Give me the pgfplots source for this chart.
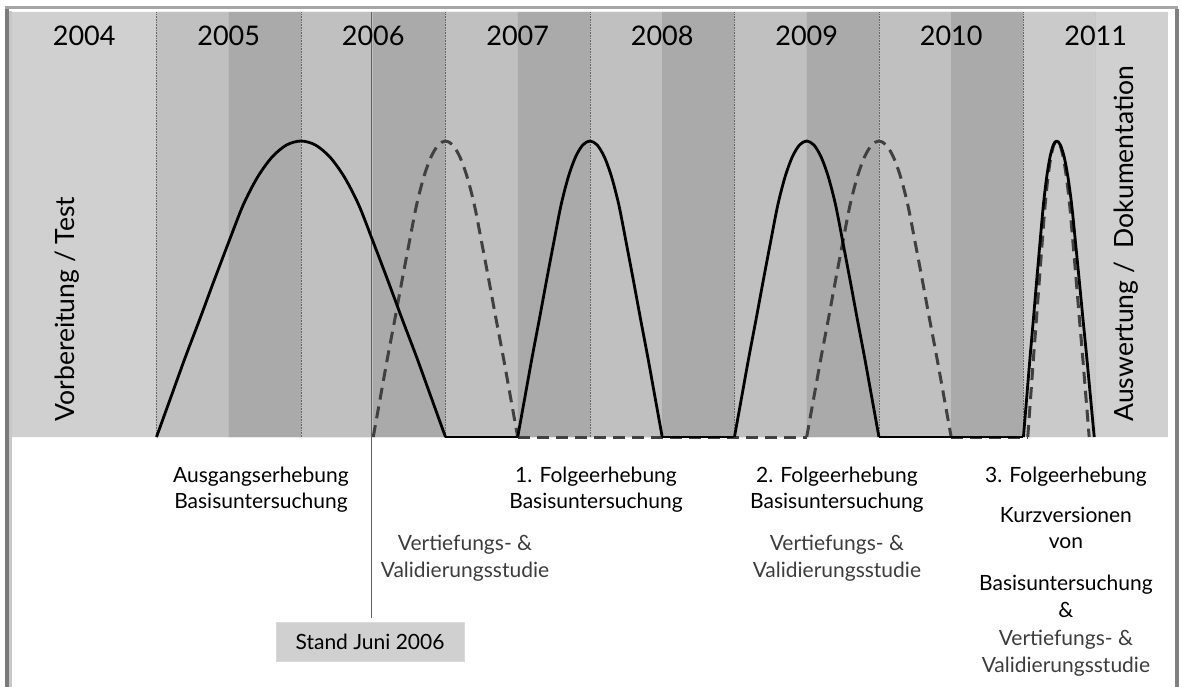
\documentclass[border=0pt]{standalone}
\usepackage{pgfplots}
\pgfplotsset{compat=1.18}
\usepackage{fontspec}
\setmainfont{Lato}
\definecolor{bgl}{RGB}{208,208,208}
\definecolor{bmed}{RGB}{192,192,192}
\definecolor{bdark}{RGB}{170,170,170}
\definecolor{b11}{RGB}{202,202,202}
\definecolor{dashc}{RGB}{64,64,64}
\definecolor{txtg}{RGB}{60,60,60}
\begin{document}
\begin{tikzpicture}[x=1pt,y=1pt]
\useasboundingbox (-12,-249) rectangle (1169,437);
\begin{axis}[
  at={(0,0)}, anchor=south west,
  width=1156pt, height=425pt, scale only axis,
  xmin=2004, xmax=2012, ymin=0, ymax=425,
  hide axis, clip=false,
  dashs/.style={no marks, color=dashc, line width=3pt, dash pattern=on 12pt off 7pt, line join=round},
  sol/.style={no marks, color=black, line width=2.8pt, line join=round},
]
% background bands
\addplot[const plot, fill=bgl, draw=none] coordinates {(2004,425) (2012,425)} \closedcycle;
\addplot[const plot, fill=bmed, draw=none] coordinates {
 (2005,425) (2005.5,0) (2006,425) (2006.5,0) (2007,425) (2007.5,0)
 (2008,425) (2008.5,0) (2009,425) (2009.5,0) (2010,425) (2010.5,0)} \closedcycle;
\addplot[const plot, fill=bdark, draw=none] coordinates {
 (2005.5,425) (2006,0) (2006.5,425) (2007,0) (2007.5,425) (2008,0)
 (2008.5,425) (2009,0) (2009.5,425) (2010,0) (2010.5,425) (2011,0)} \closedcycle;
\addplot[const plot, fill=b11, draw=none] coordinates {(2011,425) (2011.5,425)} \closedcycle;
% year separators
\addplot[ycomb, no marks, densely dotted, color=gray!80!black, line width=0.6pt] coordinates {
 (2005,425) (2006,425) (2007,425) (2008,425) (2009,425) (2010,425) (2011,425)};
\addplot[ycomb, no marks, color=gray!45, line width=0.6pt] coordinates {(2011.5,425)};
% Stand Juni 2006 line
\addplot[no marks, color=black!62, line width=1.1pt] coordinates {(2006.485,425) (2006.485,-181)};
% dashed series: Vertiefungs- & Validierungsstudie
\addplot[dashs] coordinates {(2007.5,0) (2009.5,0)};
\addplot[dashs] coordinates {(2010.5,0) (2011.03,0)};
\addplot[dashs, smooth, tension=0.5] coordinates {
 (2006.5,0) (2006.55,40) (2006.6,80) (2006.65,118) (2006.7,157) (2006.75,195) (2006.8,232) (2006.85,260) (2006.9,280) (2006.95,292) (2007.0,296)
 (2007.05,292) (2007.1,280) (2007.15,260) (2007.2,232) (2007.25,195) (2007.3,157) (2007.35,118) (2007.4,80) (2007.45,40) (2007.5,0)};
\addplot[dashs, smooth, tension=0.5] coordinates {
 (2009.5,0) (2009.55,40) (2009.6,80) (2009.65,118) (2009.7,157) (2009.75,195) (2009.8,232) (2009.85,260) (2009.9,280) (2009.95,292) (2010.0,296)
 (2010.05,292) (2010.1,280) (2010.15,260) (2010.2,232) (2010.25,195) (2010.3,157) (2010.35,118) (2010.4,80) (2010.45,40) (2010.5,0)};
\addplot[dashs, smooth, tension=0.5] coordinates {
 (2011.03,0) (2011.05,40) (2011.07,80) (2011.09,118) (2011.11,157) (2011.13,195) (2011.15,232) (2011.17,260) (2011.19,280) (2011.21,292) (2011.23,296)
 (2011.2525,292) (2011.275,280) (2011.2975,260) (2011.32,232) (2011.3425,195) (2011.365,157) (2011.3875,118) (2011.41,80) (2011.4325,40) (2011.455,0)};
% solid series: Basisuntersuchung
\addplot[sol] coordinates {(2007.0,0) (2007.5,0)};
\addplot[sol] coordinates {(2008.5,0) (2009.0,0)};
\addplot[sol] coordinates {(2010.0,0) (2011.0,0)};
\addplot[sol, smooth, tension=0.5] coordinates {
 (2005.0,0) (2005.1,40) (2005.2,80) (2005.3,118) (2005.4,157) (2005.5,195) (2005.6,232) (2005.7,260) (2005.8,280) (2005.9,292) (2006.0,296)
 (2006.1,292) (2006.2,280) (2006.3,260) (2006.4,232) (2006.5,195) (2006.6,157) (2006.7,118) (2006.8,80) (2006.9,40) (2007.0,0)};
\addplot[sol, smooth, tension=0.5] coordinates {
 (2007.5,0) (2007.55,40) (2007.6,80) (2007.65,118) (2007.7,157) (2007.75,195) (2007.8,232) (2007.85,260) (2007.9,280) (2007.95,292) (2008.0,296)
 (2008.05,292) (2008.1,280) (2008.15,260) (2008.2,232) (2008.25,195) (2008.3,157) (2008.35,118) (2008.4,80) (2008.45,40) (2008.5,0)};
\addplot[sol, smooth, tension=0.5] coordinates {
 (2009.0,0) (2009.05,40) (2009.1,80) (2009.15,118) (2009.2,157) (2009.25,195) (2009.3,232) (2009.35,260) (2009.4,280) (2009.45,292) (2009.5,296)
 (2009.55,292) (2009.6,280) (2009.65,260) (2009.7,232) (2009.75,195) (2009.8,157) (2009.85,118) (2009.9,80) (2009.95,40) (2010.0,0)};
\addplot[sol, smooth, tension=0.5] coordinates {
 (2011.0,0) (2011.023,40) (2011.046,80) (2011.069,118) (2011.092,157) (2011.115,195) (2011.138,232) (2011.161,260) (2011.184,280) (2011.207,292) (2011.23,296)
 (2011.256,292) (2011.282,280) (2011.308,260) (2011.334,232) (2011.36,195) (2011.386,157) (2011.412,118) (2011.438,80) (2011.464,40) (2011.49,0)};
% year labels
\foreach \yr in {2004,...,2011}{
  \edef\tmp{\noexpand\node[anchor=base, font=\noexpand\fontsize{27}{32}\noexpand\selectfont] at (axis cs:\yr.5,391) {\yr};}
  \tmp
}
% rotated labels
\node[rotate=90, anchor=west, font=\fontsize{26.5}{30}\selectfont] at (axis cs:2004.385,12) {Vorbereitung / Test};
\node[rotate=90, anchor=west, font=\fontsize{26.5}{30}\selectfont] at (axis cs:2011.71,12) {Auswertung /\ \ Dokumentation};
% labels below
\tikzset{lab/.style={anchor=base, font=\fontsize{21}{26}\selectfont, inner sep=0pt}}
\node[lab] at (axis cs:2005.723,-45) {Ausgangserhebung};
\node[lab] at (axis cs:2005.723,-71) {Basisuntersuchung};
\node[lab, text=txtg] at (axis cs:2007.135,-113) {Vertiefungs- \&};
\node[lab, text=txtg] at (axis cs:2007.135,-140) {Validierungsstudie};
\node[lab] at (axis cs:2008.042,-45) {1. Folgeerhebung};
\node[lab] at (axis cs:2008.042,-71) {Basisuntersuchung};
\node[lab] at (axis cs:2009.709,-45) {2. Folgeerhebung};
\node[lab] at (axis cs:2009.709,-71) {Basisuntersuchung};
\node[lab, text=txtg] at (axis cs:2009.709,-113) {Vertiefungs- \&};
\node[lab, text=txtg] at (axis cs:2009.709,-140) {Validierungsstudie};
\node[lab] at (axis cs:2011.294,-45) {3. Folgeerhebung};
\node[lab] at (axis cs:2011.294,-85) {Kurzversionen};
\node[lab] at (axis cs:2011.294,-111) {von};
\node[lab] at (axis cs:2011.294,-153) {Basisuntersuchung};
\node[lab] at (axis cs:2011.294,-180) {\&};
\node[lab, text=txtg] at (axis cs:2011.294,-208) {Vertiefungs- \&};
\node[lab, text=txtg] at (axis cs:2011.294,-235) {Validierungsstudie};
% Stand box
\node[fill=bgl, draw=black!15, minimum width=188pt, minimum height=39pt, inner sep=0pt,
      font=\fontsize{21}{26}\selectfont] at (axis cs:2006.478,-204.5) {Stand Juni 2006};
\end{axis}
% picture frame
\draw[color=black!35, line width=2.5pt] (-7,429.5) -- (1166,429.5);
\draw[color=black!52, line width=4pt] (-5,428) -- (-5,-260);
\draw[color=black!22, line width=3pt] (-1.5,426) -- (-1.5,-260);
\draw[color=black!50, line width=4pt] (1164.5,428) -- (1164.5,-260);
\end{tikzpicture}
\end{document}
